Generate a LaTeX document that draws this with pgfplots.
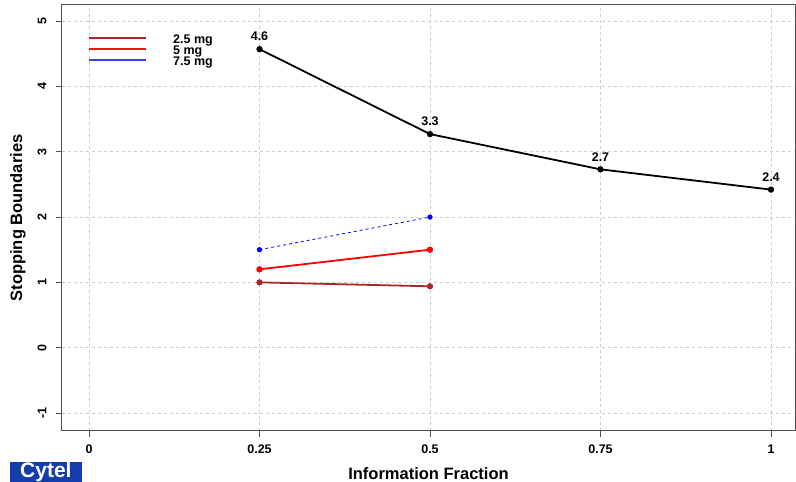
\documentclass[border=0pt]{standalone}
\usepackage{pgfplots}
\pgfplotsset{compat=1.18}
\usepackage{fontspec}
\setmainfont{Liberation Sans}
\definecolor{darkred}{RGB}{170,40,40}
\definecolor{axgrey}{RGB}{80,80,80}
\definecolor{gridgrey}{RGB}{205,205,205}
\definecolor{cytelblue}{RGB}{20,60,170}
\definecolor{legblue}{RGB}{60,60,255}
\definecolor{legred}{RGB}{240,20,20}
\begin{document}
\begin{tikzpicture}[x=1pt,y=1pt]
\useasboundingbox (0,0) rectangle (796,482);
\begin{axis}[
  at={(62pt,51pt)}, anchor=south west,
  scale only axis, width=733pt, height=426pt,
  xmin=-0.0396, xmax=1.0352, ymin=-1.275, ymax=5.246,
  xtick={0,0.25,0.5,0.75,1},
  xticklabels={0,0.25,0.5,0.75,1},
  ytick={-1,0,1,2,3,4,5},
  /pgf/number format/assume math mode=true,
  tick align=outside, tick pos=left,
  major tick length=6pt,
  every tick/.style={axgrey, line width=1pt},
  axis line style={axgrey, line width=1pt},
  grid=major,
  major grid style={gridgrey, dashed, line width=0.8pt},
  tick label style={font=\fontsize{12.5}{14}\selectfont\bfseries},
  xticklabel style={yshift=-4pt},
  yticklabel style={xshift=-6pt, rotate=90, anchor=south},
  xlabel={Information Fraction},
  ylabel={Stopping Boundaries},
  label style={font=\fontsize{16.5}{18}\selectfont\bfseries},
  xlabel style={yshift=-7pt},
  ylabel style={yshift=5pt},
  clip=false,
]
\addplot[darkred, line width=1.8pt, mark=*, mark size=2.2pt] coordinates {(0.25,1.0) (0.5,0.94)};
\addplot[red, line width=1.8pt, mark=*, mark size=2.2pt] coordinates {(0.25,1.2) (0.5,1.5)};
\addplot[blue, line width=0.8pt, dashed, mark=*, mark size=2.2pt, mark options={solid}] coordinates {(0.25,1.5) (0.5,2.0)};
\addplot[black, line width=1.8pt, mark=*, mark size=2.2pt,
  nodes near coords, point meta=explicit symbolic,
  every node near coord/.append style={font=\fontsize{12.5}{14}\selectfont\bfseries, anchor=south, yshift=4pt}]
  table[meta=lab] {
  x y lab
  0.25 4.57 4.6
  0.5 3.27 3.3
  0.75 2.73 2.7
  1 2.42 2.4
};
% legend (drawn by hand, as in the reference)
\draw[draw=darkred, line width=2pt] (rel axis cs:0.0368,0.92254) -- (rel axis cs:0.1146,0.92254);
\draw[draw=legred, line width=2pt] (rel axis cs:0.0368,0.89671) -- (rel axis cs:0.1146,0.89671);
\draw[draw=legblue, line width=2.2pt] (rel axis cs:0.0368,0.87089) -- (rel axis cs:0.1146,0.87089);
\node[anchor=west, inner sep=0pt, font=\fontsize{12.5}{12}\selectfont\bfseries] at (rel axis cs:0.1514,0.9170) {2.5 mg};
\node[anchor=west, inner sep=0pt, font=\fontsize{12.5}{12}\selectfont\bfseries] at (rel axis cs:0.1514,0.8912) {5 mg};
\node[anchor=west, inner sep=0pt, font=\fontsize{12.5}{12}\selectfont\bfseries] at (rel axis cs:0.1514,0.8654) {7.5 mg};
\end{axis}
\node[anchor=south west, fill=cytelblue, text=white, inner xsep=10pt, inner ysep=0pt,
  text height=15pt, text depth=4.5pt,
  font=\fontsize{21}{22}\selectfont\bfseries] at (10,0) {Cytel};
\end{tikzpicture}
\end{document}
